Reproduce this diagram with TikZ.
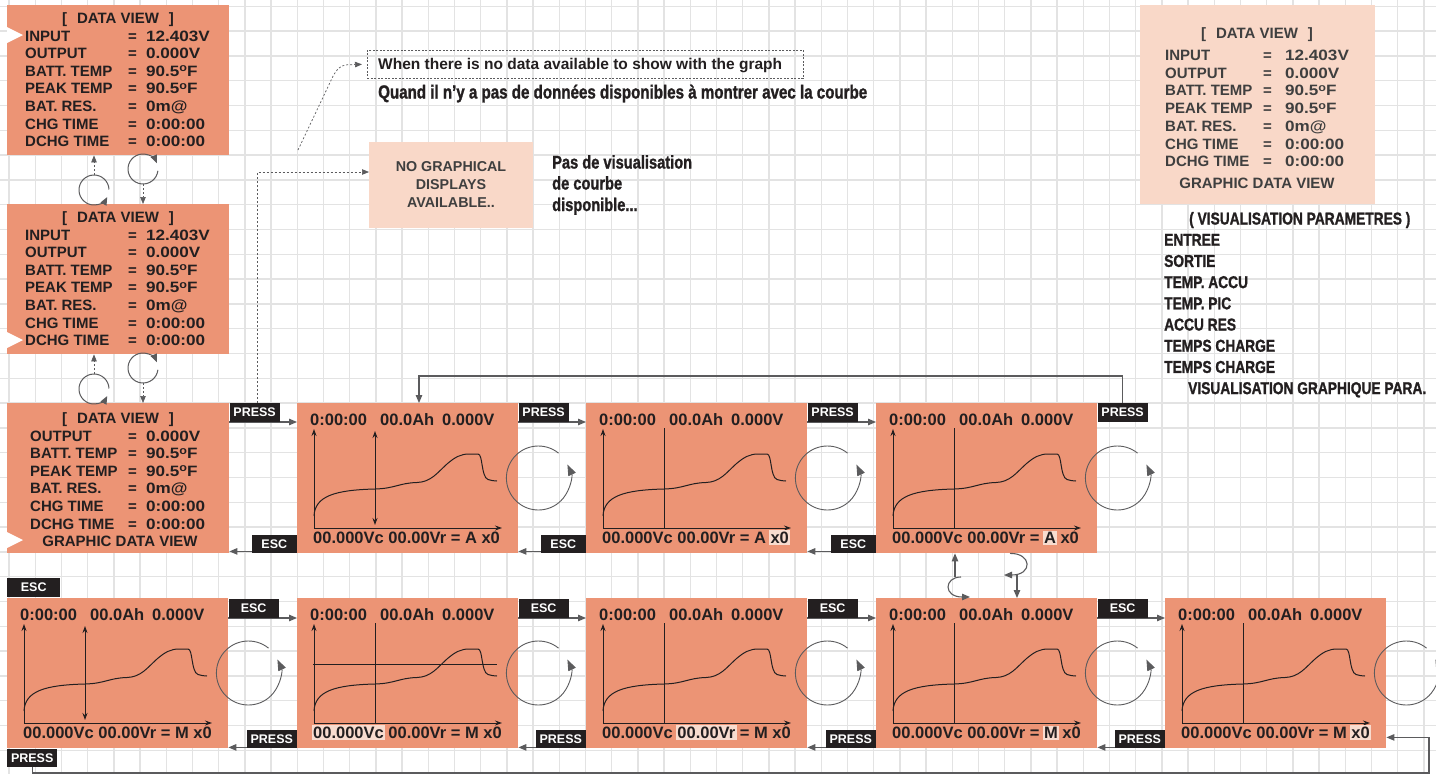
\documentclass[tikz,border=0pt]{standalone}
\usepackage{fontspec}
\setmainfont{Liberation Sans}
\newfontfamily\condf{Liberation Sans Bold}[FakeStretch=0.8, FakeBold=1.2]
\newfontfamily\widef{Liberation Sans Bold}[FakeStretch=1.14]
\usetikzlibrary{arrows.meta,calc}
\definecolor{boxc}{HTML}{EC9475}
\definecolor{pinkc}{HTML}{F9D8C8}
\definecolor{hlc}{HTML}{F8DCCF}
\definecolor{inkc}{HTML}{231F20}
\definecolor{ngc}{HTML}{3F3F3F}
\definecolor{arrc}{HTML}{5B5B5D}
\definecolor{gridc}{HTML}{E3E3E3}
\newcommand\dg{\raisebox{0.55ex}{\fontsize{11}{11}\selectfont o}}
\newcommand\hl[1]{\hspace{-1.5pt}{\setlength{\fboxsep}{1.5pt}\colorbox{hlc}{#1}}\hspace{-1.5pt}}
\newcommand\gtx{\fontsize{16.5}{18}\selectfont\bfseries}
\newcommand\dtx{\fontsize{15}{17.6}\selectfont\bfseries}
\newcommand\labx{\fontsize{12.5}{14}\selectfont\bfseries}
\newcommand\wtx{\fontsize{15.5}{17}\selectfont\bfseries}
\newcommand\ngx{\fontsize{14.3}{16}\selectfont\bfseries}
\tikzset{
 gridl/.style={draw=gridc, line width=1.3pt},
 dvbox/.style={fill=boxc, draw=none, minimum width=222pt, minimum height=150pt, anchor=north west, inner sep=0pt},
 gbox/.style={fill=boxc, draw=none, minimum width=221pt, minimum height=150pt, anchor=north west, inner sep=0pt},
 dt/.style={anchor=base west, inner sep=0pt, text=inkc, font=\dtx},
 tt/.style={anchor=base west, inner sep=0pt, text=ngc, font=\dtx},
 gt/.style={anchor=base west, inner sep=0pt, text=inkc, font=\gtx},
 ct/.style={anchor=base west, inner sep=0pt, text=inkc},
 tag/.style={fill=inkc, text=white, font=\labx, inner sep=0pt, minimum width=50pt, minimum height=18.5pt},
 conn/.style={draw=arrc, line width=1.1pt, -{Triangle[length=8pt,width=6.5pt]}},
 dconn/.style={draw=arrc, line width=0.7pt, dash pattern=on 2pt off 2pt, -{Triangle[length=7pt,width=5.5pt]}},
 rot/.style={draw=arrc, line width=0.9pt, -{Triangle[length=11pt,width=8pt]}},
 rots/.style={draw=arrc, line width=1pt, -{Triangle[length=8pt,width=6.5pt]}},
 gaxis/.style={draw=inkc, line width=0.9pt, -{Stealth[length=7pt,width=5pt]}},
 gaxistwo/.style={draw=inkc, line width=0.9pt, {Stealth[length=7pt,width=5pt]}-{Stealth[length=7pt,width=5pt]}},
 gcursor/.style={draw=inkc, line width=0.8pt},
 gcurve/.style={draw=inkc, line width=1pt},
}
\newcommand\dvlines[8]{%
 \foreach \lab/\val [count=\i from 0] in {#8} {%
  \node[#7] (#1-a\i) at (#2,{#5+#6*\i}) {\lab};
  \node[#7] (#1-b\i) at (#3,{#5+#6*\i}) {=};
  \node[#7] (#1-c\i) at (#4,{#5+#6*\i}) {\widef\val};
 }}
\newcommand\graphbox[5]{%
 \node[gbox] (#1) at (#2,#3) {};
 \node[gt] (#1-t1) at (#2+13,#3+22.5) {0:00:00};
 \node[gt] (#1-t2) at (#2+83,#3+22.5) {00.0Ah};
 \node[gt] (#1-t3) at (#2+145,#3+22.5) {0.000V};
 \draw[gaxis] (#2+17,#3+125) -- (#2+17,#3+26);
 \draw[gaxis] (#2+17,#3+125) -- (#2+205,#3+125);
 \ifnum#4=1 \draw[gaxistwo] (#2+78,#3+28) -- (#2+78,#3+122);
 \else \draw[gcursor] (#2+78,#3+25) -- (#2+78,#3+125); \fi
 \draw[gcurve] (#2+17,#3+113) .. controls (#2+18,#3+93) and (#2+38,#3+87) .. (#2+78,#3+86)
   .. controls (#2+98,#3+85.5) and (#2+102,#3+80) .. (#2+120,#3+79.5)
   .. controls (#2+134,#3+79) and (#2+140,#3+70) .. (#2+150,#3+61)
   .. controls (#2+158,#3+54) and (#2+164,#3+51) .. (#2+172,#3+51)
   -- (#2+181,#3+51)
   .. controls (#2+186,#3+51) and (#2+184,#3+74) .. (#2+191,#3+76.5)
   .. controls (#2+194,#3+77.5) and (#2+197,#3+78) .. (#2+200,#3+78);
 \node[gt] (#1-f) at (#2+16,#3+140.5) {#5};
}
\begin{document}
\begin{tikzpicture}[x=1pt,y=-1pt]
\useasboundingbox (0,0) rectangle (1436,774);
\fill[white] (0,0) rectangle (1436,774);
\foreach \k in {-27,...,27} \draw[gridl] ({716.5+26.2*(\k)},0) -- ({716.5+26.2*(\k)},774);
\foreach \k in {-4,...,26} \draw[gridl] (0,{105.5+24.8*(\k)}) -- (1436,{105.5+24.8*(\k)});

% data view boxes
\node[dvbox] (dv1) at (7,5) {};
\node[dvbox] (dv2) at (7,204) {};
\node[dvbox] (dv3) at (7,403) {};
\fill[white] (7,27) -- (23,35) -- (7,43) -- cycle;
\fill[white] (7,332) -- (23,340) -- (7,348) -- cycle;
\fill[white] (7,532) -- (23,540) -- (7,548) -- cycle;

% small rotation connectors between data views
\draw[rots] (94,190) ++(-2:15) arc[start angle=-2, end angle=-332, radius=15];
\draw[rots] (143,169) ++(7:15) arc[start angle=7, end angle=337, radius=15];
\draw[rots] (94,389) ++(-2:15) arc[start angle=-2, end angle=-332, radius=15];
\draw[rots] (143,368) ++(7:15) arc[start angle=7, end angle=337, radius=15];
\coordinate (u1) at (94,175); \draw[dconn] (u1) -- (u1 |- dv1.south);
\coordinate (d1) at (143,184); \draw[dconn] (d1) -- (d1 |- dv2.north);
\coordinate (u2) at (94,374); \draw[dconn] (u2) -- (u2 |- dv2.south);
\coordinate (d2) at (143,383); \draw[dconn] (d2) -- (d2 |- dv3.north);

\node[dt, anchor=base] (dv1-t) at (118,23.5) {[\hspace{10pt}DATA VIEW\hspace{10pt}]};
\dvlines{dv1}{25}{128}{146}{41}{17.6}{dt}{INPUT/12.403V, OUTPUT/0.000V, BATT. TEMP/90.5\dg F, PEAK TEMP/90.5\dg F, BAT. RES./0m@, CHG TIME/0:00:00, DCHG TIME/0:00:00}
\node[dt, anchor=base] (dv2-t) at (118,222.5) {[\hspace{10pt}DATA VIEW\hspace{10pt}]};
\dvlines{dv2}{25}{128}{146}{240}{17.6}{dt}{INPUT/12.403V, OUTPUT/0.000V, BATT. TEMP/90.5\dg F, PEAK TEMP/90.5\dg F, BAT. RES./0m@, CHG TIME/0:00:00, DCHG TIME/0:00:00}
\node[dt, anchor=base] (dv3-t) at (118,423.5) {[\hspace{10pt}DATA VIEW\hspace{10pt}]};
\dvlines{dv3}{30}{128}{146}{441}{17.6}{dt}{OUTPUT/0.000V, BATT. TEMP/90.5\dg F, PEAK TEMP/90.5\dg F, BAT. RES./0m@, CHG TIME/0:00:00, DCHG TIME/0:00:00}
\node[dt, anchor=base] (dv3-g) at (120,546.5) {GRAPHIC DATA VIEW};

% graph boxes
\graphbox{gA}{297}{403}{1}{00.000Vc 00.00Vr = A x0}
\graphbox{gB}{586}{403}{0}{00.000Vc 00.00Vr = A \hl{x0}}
\graphbox{gC}{876}{403}{0}{00.000Vc 00.00Vr = \hl{A} x0}
\graphbox{gD}{7}{598}{1}{00.000Vc 00.00Vr = M x0}
\graphbox{gE}{297}{598}{0}{\hl{00.000Vc} 00.00Vr = M x0}
\graphbox{gF}{586}{598}{0}{00.000Vc \hl{00.00Vr} = M x0}
\graphbox{gG}{876}{598}{0}{00.000Vc 00.00Vr = \hl{M} x0}
\graphbox{gH}{1165}{598}{0}{00.000Vc 00.00Vr = M \hl{x0}}
\draw[gcursor] (313,664) -- (497,664);

% rotation icons
\foreach \n in {gA,gB,gC,gD,gE,gF,gG,gH}
  \draw[rot] ($(\n.north east)+(20,75)$) ++(-51:32) arc[start angle=-51, end angle=-385, radius=32];

% top row connectors
\draw[conn] ($(dv3.north east)+(0,19)$) -- ($(gA.north west)+(0,19)$);
\draw[conn] ($(gA.south west)+(0,-2)$) -- ($(dv3.south east)+(0,-2)$);
\draw[conn] ($(gA.north east)+(0,19)$) -- ($(gB.north west)+(0,19)$);
\draw[conn] ($(gB.south west)+(0,-2)$) -- ($(gA.south east)+(0,-2)$);
\draw[conn] ($(gB.north east)+(0,19)$) -- ($(gC.north west)+(0,19)$);
\draw[conn] ($(gC.south west)+(0,-2)$) -- ($(gB.south east)+(0,-2)$);
\node[tag, anchor=north west] (p1) at (dv3.north east) {PRESS};
\node[tag, anchor=south east, minimum width=45pt] (e1) at (gA.south west) {ESC};
\node[tag, anchor=north west] (p2) at (gA.north east) {PRESS};
\node[tag, anchor=south east, minimum width=45pt] (e2) at (gB.south west) {ESC};
\node[tag, anchor=north west] (p3) at (gB.north east) {PRESS};
\node[tag, anchor=south east, minimum width=45pt] (e3) at (gC.south west) {ESC};
\node[tag, anchor=north west] (p4) at (gC.north east) {PRESS};
\draw[conn] (p4.north) -- ++(0,-27) -| ($(gA.north west)+(122,0)$);

% bottom row connectors
\draw[conn] ($(gD.north east)+(0,20)$) -- ($(gE.north west)+(0,20)$);
\draw[conn] ($(gE.south west)+(0,-1)$) -- ($(gD.south east)+(0,-1)$);
\draw[conn] ($(gE.north east)+(0,20)$) -- ($(gF.north west)+(0,20)$);
\draw[conn] ($(gF.south west)+(0,-1)$) -- ($(gE.south east)+(0,-1)$);
\draw[conn] ($(gF.north east)+(0,20)$) -- ($(gG.north west)+(0,20)$);
\draw[conn] ($(gG.south west)+(0,-1)$) -- ($(gF.south east)+(0,-1)$);
\draw[conn] ($(gG.north east)+(0,20)$) -- ($(gH.north west)+(0,20)$);
\draw[conn] ($(gH.south west)+(0,-1)$) -- ($(gG.south east)+(0,-1)$);
\node[tag, anchor=north west] (e4) at ($(gD.north east)+(0,1)$) {ESC};
\node[tag, anchor=south east] (p5) at (gE.south west) {PRESS};
\node[tag, anchor=north west] (e5) at ($(gE.north east)+(0,1)$) {ESC};
\node[tag, anchor=south east] (p6) at (gF.south west) {PRESS};
\node[tag, anchor=north west] (e6) at ($(gF.north east)+(0,1)$) {ESC};
\node[tag, anchor=south east] (p7) at (gG.south west) {PRESS};
\node[tag, anchor=north west] (e7) at ($(gG.north east)+(0,1)$) {ESC};
\node[tag, anchor=south east] (p8) at (gH.south west) {PRESS};
\node[tag, anchor=south west, minimum width=53pt] (e0) at ($(gD.north west)+(0,-1)$) {ESC};
\node[tag, anchor=north west] (p9) at (gD.south west) {PRESS};
\coordinate (rc) at (1429,773);
\draw[conn] (p9.south) |- (rc) |- ($(gH.south east)+(0,-11)$);

% C <-> G
\coordinate (cgl) at (955,577);
\draw[conn] (cgl) -- (cgl |- gC.south);
\draw[conn] ($(cgl)+(6,0)$) .. controls (944,577) and (943,597) .. ($(gG.north west)+(94,-1)$);
\coordinate (cgr) at (1017,575);
\draw[conn] (cgr) -- (cgr |- gG.north);
\draw[conn] ($(gC.south west)+(134,0)$) .. controls (1032,553) and (1033,575) .. ($(cgr)+(-13,0)$);

% no-data notes
\node[fill=pinkc, minimum width=164pt, minimum height=86pt, anchor=north west, inner sep=0pt] (ng) at (369,142) {};
\node[anchor=base, inner sep=0pt, font=\ngx, text=ngc] (ng1) at (451,171) {NO GRAPHICAL};
\node[anchor=base, inner sep=0pt, font=\ngx, text=ngc] (ng2) at (451,189) {DISPLAYS};
\node[anchor=base, inner sep=0pt, font=\ngx, text=ngc] (ng3) at (451,207) {AVAILABLE..};
\draw[dconn] ($(p1.north)+(3,0)$) |- ($(ng.north west)+(0,30)$);
\node[ct, font=\condf\fontsize{18.3}{20}\selectfont] (pv1) at (552,168.5) {Pas de visualisation};
\node[ct, font=\condf\fontsize{18.3}{20}\selectfont] (pv2) at (552,189.5) {de courbe};
\node[ct, font=\condf\fontsize{18.3}{20}\selectfont] (pv3) at (552,211) {disponible...};

\node[draw=arrc, line width=0.7pt, dash pattern=on 2pt off 1.5pt, minimum width=436pt, minimum height=28pt, anchor=north west, inner sep=0pt] (wn) at (367,50) {};
\node[anchor=base west, inner sep=0pt, font=\wtx, text=inkc] (wnt) at (378,69.5) {When there is no data available to show with the graph};
\node[ct, font=\condf\fontsize{18.9}{20}\selectfont] (fr) at (378,98.5) {Quand il n’y a pas de données disponibles à montrer avec la courbe};
\coordinate (ds) at (298,150);
\draw[dconn, rounded corners=5pt] (ds) -- (335,72) -- (342,65) -- ($(wn.west)+(-5,0)$);

% top-right legend box
\node[fill=pinkc, minimum width=235pt, minimum height=199pt, anchor=north west, inner sep=0pt] (tr) at (1140,5) {};
\node[tt, anchor=base] (tr-t) at (1257,38.5) {[\hspace{10pt}DATA VIEW\hspace{10pt}]};
\dvlines{tr}{1165}{1263}{1285}{60.5}{17.7}{tt}{INPUT/12.403V, OUTPUT/0.000V, BATT. TEMP/90.5\dg F, PEAK TEMP/90.5\dg F, BAT. RES./0m@, CHG TIME/0:00:00, DCHG TIME/0:00:00}
\node[tt, anchor=base] (tr-g) at (1257,188.5) {GRAPHIC DATA VIEW};

\foreach \txt/\xx [count=\i from 0] in {( VISUALISATION PARAMETRES )/1189, ENTREE/1164, SORTIE/1164, TEMP. ACCU/1164, TEMP. PIC/1164, ACCU RES/1164, TEMPS CHARGE/1164, TEMPS CHARGE/1164, VISUALISATION GRAPHIQUE PARA./1188}
  \node[ct, font=\condf\fontsize{17.2}{18}\selectfont] (fl\i) at (\xx,{224.5+21.2*\i}) {\txt};
\end{tikzpicture}
\end{document}
